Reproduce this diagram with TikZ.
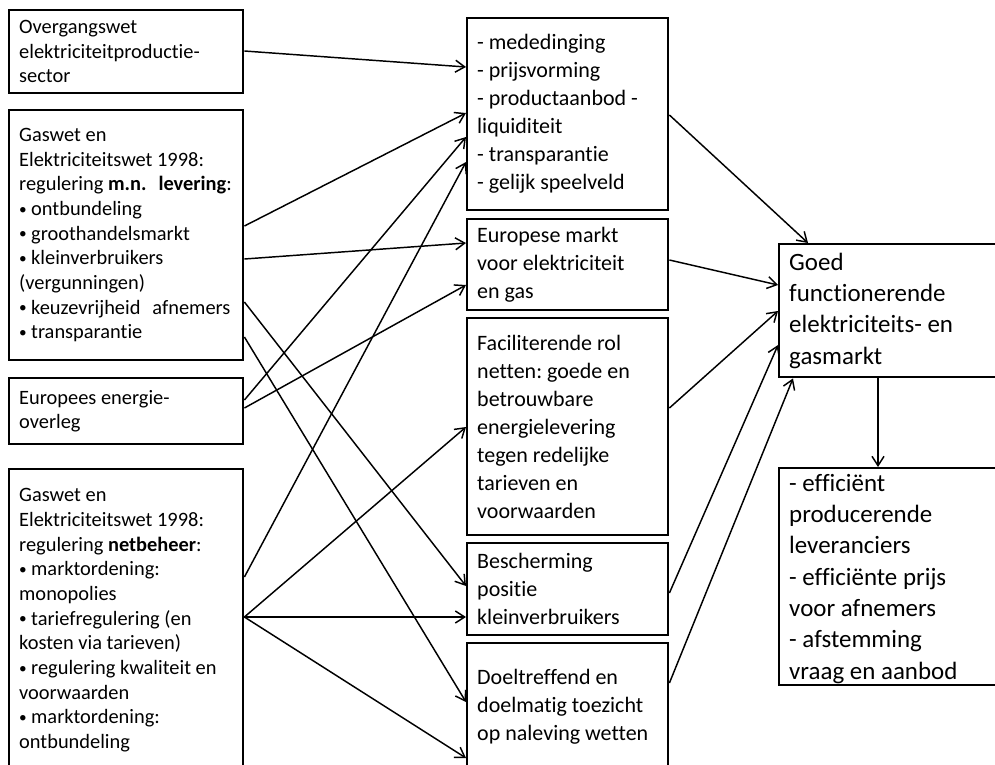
\documentclass[tikz,border=0pt]{standalone}
\usepackage{graphicx}
\usepackage{fontspec}
\setmainfont{Carlito}[Ligatures=NoCommon]
\usetikzlibrary{arrows.meta}
\frenchspacing

\newcommand{\opsom}{\makebox[9pt][l]{\raisebox{0.06em}{\scalebox{0.75}{•}}}}

\tikzset{
  box/.style={draw, line width=1.8pt, rectangle, anchor=north west, align=flush left, inner xsep=7.5pt},
  leftbox/.style={box, text width=160.5pt, font=\fontsize{15.3pt}{18.5pt}\selectfont},
  midbox/.style={box, text width=135.75pt, font=\fontsize{16.5pt}{21pt}\selectfont},
  rightbox/.style={box, text width=159pt, font=\fontsize{18.7pt}{23.5pt}\selectfont},
  pijl/.style={line width=1.1pt, -{Straight Barb[length=7pt,width=9pt,line width=1.1pt]}}
}

\begin{document}
\begin{tikzpicture}[x=0.75pt,y=0.75pt,yscale=-1,xscale=1]
\useasboundingbox (0,0) rectangle (995,764);
\clip (0,0) rectangle (995,764);

%Box: left column
\node[leftbox, minimum height=62.25pt] (ovw) at (8,9) {Overgangswet\\elektriciteitproductie-\\sector};
\node[leftbox, minimum height=187.5pt] (gwl) at (8,109) {Gaswet en\\Elektriciteitswet~1998:\\regulering~\textbf{m.n.\hspace{9pt}levering}:\\\opsom ontbundeling\\\opsom groothandelsmarkt\\\opsom kleinverbruikers\\(vergunningen)\\\opsom keuzevrijheid\hspace{9pt}afnemers\\\opsom transparantie};
\node[leftbox, minimum height=49.5pt] (eeo) at (8,377) {Europees energie-\\overleg};
\node[leftbox, minimum height=226.5pt] (gwn) at (8,468) {Gaswet en\\Elektriciteitswet~1998:\\regulering \textbf{netbeheer}:\\\opsom marktordening:\\monopolies\\\opsom tariefregulering~(en\\kosten via tarieven)\\\opsom regulering~kwaliteit~en\\voorwaarden\\\opsom marktordening:\\ontbundeling};

%Box: middle column
\node[midbox, minimum height=144pt] (mdw) at (466,17) {- mededinging\\- prijsvorming\\- productaanbod~-\\liquiditeit\\- transparantie\\- gelijk speelveld};
\node[midbox, minimum height=68.25pt] (eum) at (466,218) {Europese markt\\voor elektriciteit\\en gas};
\node[midbox, minimum height=162.75pt] (fac) at (466,317) {Faciliterende rol\\netten: goede en\\betrouwbare\\energielevering\\tegen redelijke\\tarieven en\\voorwaarden};
\node[midbox, minimum height=69pt] (bes) at (466,542) {Bescherming\\positie\\kleinverbruikers};
\node[midbox, minimum height=96pt] (toe) at (466,642) {Doeltreffend en\\doelmatig~toezicht\\op~naleving~wetten};

%Box: right column
\node[rightbox, inner ysep=0pt, minimum height=99.75pt] (goed) at (778,243) {Goed\\functionerende\\elektriciteits- en\\gasmarkt};
\node[rightbox, inner ysep=0pt, text height=17.25pt, text depth=145.5pt] (eff) at (778,467) {- efficiënt\\producerende\\leveranciers\\- efficiënte prijs\\voor afnemers\\- afstemming\\vraag en aanbod};

%Arrows: left to middle
\draw[pijl] (ovw.east |- 0,51) -- (mdw.west |- 0,67);
\draw[pijl] (gwl.east |- 0,226) -- (mdw.west |- 0,113);
\draw[pijl] (gwl.east |- 0,259) -- (eum.west |- 0,243);
\draw[pijl] (gwl.east |- 0,302) -- (bes.west |- 0,586);
\draw[pijl] (gwl.east |- 0,337) -- (toe.west |- 0,702);
\draw[pijl] (eeo.east |- 0,400) -- (mdw.west |- 0,137);
\draw[pijl] (eeo.east |- 0,408) -- (eum.west |- 0,285);
\draw[pijl] (gwn.east |- 0,577) -- (mdw.west |- 0,162);
\draw[pijl] (gwn.east |- 0,617) -- (fac.west |- 0,427);
\draw[pijl] (gwn.east |- 0,617) -- (bes.west |- 0,617);
\draw[pijl] (gwn.east |- 0,617) -- (toe.west |- 0,758);

%Arrows: middle to right
\draw[pijl] (mdw.east |- 0,115) -- (goed.north -| 808,0);
\draw[pijl] (eum.east |- 0,260) -- (goed.west |- 0,285);
\draw[pijl] (fac.east |- 0,408) -- (goed.west |- 0,311);
\draw[pijl] (bes.east |- 0,593) -- (goed.west |- 0,345);
\draw[pijl] (toe.east |- 0,683) -- (goed.south -| 793,0);
\draw[pijl] (goed.south -| 878,0) -- (eff.north -| 878,0);

\end{tikzpicture}
\end{document}
